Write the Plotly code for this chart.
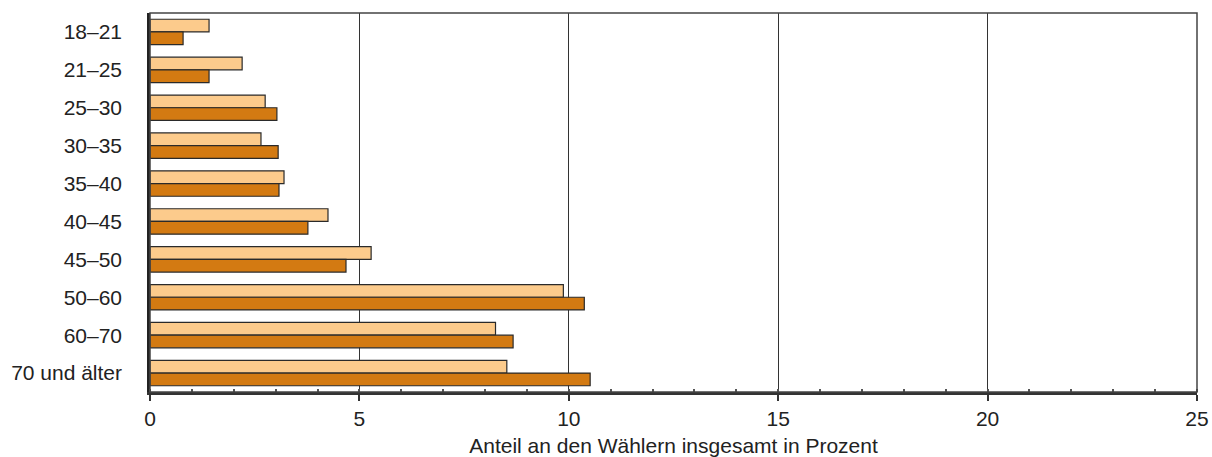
import plotly.graph_objects as go

categories = ["18–21", "21–25", "25–30", "30–35", "35–40", "40–45", "45–50", "50–60", "60–70", "70 und älter"]
series_light = [1.41, 2.2, 2.75, 2.65, 3.2, 4.25, 5.28, 9.87, 8.25, 8.52]
series_dark = [0.79, 1.41, 3.03, 3.06, 3.08, 3.77, 4.68, 10.37, 8.67, 10.51]
x_ticks = [0, 5, 10, 15, 20, 25]

fig = go.Figure()
fig.add_trace(go.Bar(y=categories, x=series_light, orientation="h",
                     marker=dict(color="#FCCB8C", line=dict(color="#2a2a2a", width=1.2)),
                     showlegend=False))
fig.add_trace(go.Bar(y=categories, x=series_dark, orientation="h",
                     marker=dict(color="#D37A12", line=dict(color="#2a2a2a", width=1.2)),
                     showlegend=False))

fig.update_layout(
    width=1212, height=457,
    margin=dict(l=150, r=15, t=13, b=65),
    paper_bgcolor="white", plot_bgcolor="white",
    barmode="group", bargap=0.33, bargroupgap=0,
    font=dict(family="Liberation Sans, Arial, sans-serif", size=21, color="#222"),
    xaxis=dict(range=[0, 25], tickvals=x_ticks, ticktext=[str(v) for v in x_ticks],
               automargin=False,
               showgrid=True, gridcolor="#333", gridwidth=1,
               showline=True, linecolor="#333", linewidth=2.5,
               ticks="outside", ticklen=6, tickcolor="#333", tickwidth=1.5,
               minor=dict(dtick=1, ticks="inside", ticklen=3, tickcolor="#555", showgrid=False),
               zeroline=False, tickfont=dict(size=21),
               title=dict(text="Anteil an den Wählern insgesamt in Prozent", font=dict(size=21), standoff=10)),
    yaxis=dict(autorange="reversed", automargin=False, showgrid=False, showline=True,
               linecolor="#222", linewidth=2.5,
               ticks="", ticklabelstandoff=21, tickfont=dict(size=21), zeroline=False),
    shapes=[dict(type="rect", xref="paper", yref="paper", x0=0, y0=0, x1=1, y1=1,
                 line=dict(color="#444", width=1.5), layer="above")],
)

fig.write_html("out.html", config={"displayModeBar": False},
               post_script="document.documentElement.style.margin='0';document.body.style.margin='0';document.body.style.overflow='hidden';")
